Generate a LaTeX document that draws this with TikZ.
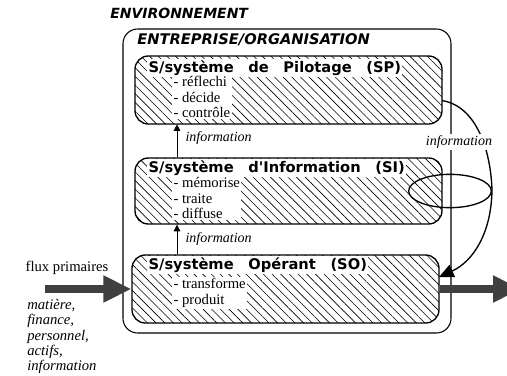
\documentclass[tikz,border=0pt]{standalone}
\usepackage{fontspec}
\setmainfont{Liberation Serif}
\setsansfont{DejaVu Sans}
\usetikzlibrary{arrows.meta, shapes.geometric, patterns.meta, fit}
\definecolor{flowgray}{RGB}{64,64,64}

\begin{document}
\begin{tikzpicture}[x=0.75pt,y=-0.75pt,
    orgbox/.style={draw, line width=0.8pt, rounded corners=11pt, inner sep=0pt},
    sysbox/.style={draw, line width=1pt, rounded corners=10pt, inner sep=0pt,
        pattern={Lines[angle=-45,distance=4.6pt,line width=0.45pt]}},
    boxtitle/.style={font=\sffamily\bfseries\fontsize{11}{13}\selectfont, fill=white, inner sep=1pt, anchor=west},
    tasks/.style={font=\fontsize{11}{11.5}\selectfont, fill=white, align=left, inner sep=1pt, anchor=north west},
    infolabel/.style={font=\itshape\fontsize{10.5}{12}\selectfont, fill=white, inner sep=1pt},
    uparrow/.style={-{Triangle[length=5pt,width=5pt]}, line width=0.6pt},
    flow/.style={flowgray, line width=6pt, -{Triangle[length=21pt,width=19pt]}},
]
    \useasboundingbox (0,0) rectangle (507,375);

    % environnement et entreprise
    \node[font=\sffamily\bfseries\itshape\fontsize{10.5}{12}\selectfont, anchor=west, inner sep=0pt] (env) at (110,13) {ENVIRONNEMENT};
    \node[orgbox, fit={(123,29) (451,333)}] (org) {};
    \node[font=\sffamily\bfseries\itshape\fontsize{11}{13}\selectfont, anchor=west, inner sep=0pt] (orgtitle) at (137,40) {ENTREPRISE/ORGANISATION};

    % les trois sous-systemes
    \node[sysbox, fit={(135,56) (442,124)}] (sp) {};
    \node[sysbox, fit={(135,158) (442,224)}] (si) {};
    \node[sysbox, fit={(132,255) (439,323)}] (so) {};

    \node[boxtitle] (sptitle) at (147,68) {S/système\quad de\quad Pilotage\quad (SP)};
    \node[tasks] (sptasks) at (172,75) {- réflechi\\- décide\\- contrôle};
    \node[boxtitle] (sititle) at (147,168) {S/système\quad d\textquotesingle Information\quad (SI)};
    \node[tasks] (sitasks) at (172,176) {- mémorise\\- traite\\- diffuse};
    \node[boxtitle] (sotitle) at (147,265) {S/système\quad Opérant\quad (SO)};
    \node[tasks] (sotasks) at (172,277) {- transforme\\- produit};

    % flux d'information
    \draw[uparrow] (177,0 |- si.north) -- (177,0 |- sp.south);
    \node[infolabel, anchor=west] (info1) at (184,138) {information};
    \draw[uparrow] (177,0 |- so.north) -- (177,0 |- si.south);
    \node[infolabel, anchor=west] (info2) at (184,239) {information};

    \node[draw, ellipse, line width=1pt, minimum width=62pt, minimum height=25pt] (loop) at (450,191) {};
    \coordinate (soin) at (439,277);
    \draw[line width=1pt, -{Triangle[length=11pt,width=10pt]}] ([yshift=-8pt]sp.east)
        .. controls (476,106) and (491,150) .. (loop.east)
        .. controls (491,235) and (472,262) .. (soin);
    \node[infolabel] (info3) at (459,142) {information};

    % flux primaires
    \coordinate (fluxin) at (45,289);
    \coordinate (fluxout) at (521,289);
    \draw[flow] (fluxin) -- (so.west);
    \draw[flow] (so.east) -- (fluxout);
    \node[font=\fontsize{11}{13}\selectfont] (fluxlabel) at (67,268) {flux primaires};
    \node[font=\itshape\fontsize{11}{11.5}\selectfont, align=left, anchor=north west, inner sep=0pt] (fluxlist) at (27,299)
        {matière,\\finance,\\personnel,\\actifs,\\information};
\end{tikzpicture}
\end{document}
